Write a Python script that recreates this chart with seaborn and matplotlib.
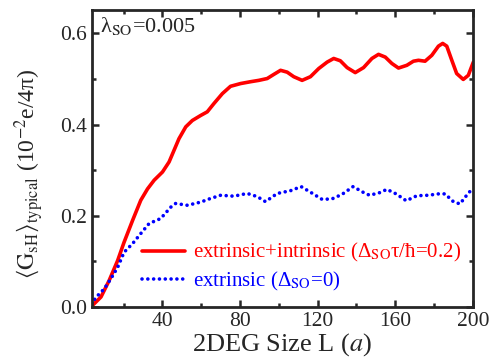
import numpy as np
import pandas as pd
import matplotlib
matplotlib.use("Agg")
import matplotlib.pyplot as plt
import seaborn as sns
from matplotlib.ticker import MultipleLocator

# red: extrinsic + intrinsic
L_red = [3.1, 8.3, 12.5, 16.9, 20.2, 24.6, 28.8, 32.3, 35.7, 40.0, 43.4, 46.0, 48.5,
         52.0, 55.4, 59.7, 63.1, 66.5, 70.9, 75.1, 80.3, 85.4, 89.7, 94.0, 97.4,
         100.9, 104.3, 107.7, 112.0, 116.3, 120.6, 124.9, 128.3, 131.7, 135.2, 139.4,
         143.7, 148.0, 151.4, 154.9, 158.3, 161.7, 166.0, 169.4, 172.0, 175.4, 178.9,
         182.3, 184.5, 186.6, 189.2, 191.7, 195.1, 197.7, 200.3]
G_red = [0.0, 0.022, 0.058, 0.102, 0.142, 0.190, 0.234, 0.259, 0.278, 0.296, 0.318, 0.344, 0.369,
         0.395, 0.409, 0.420, 0.428, 0.446, 0.468, 0.484, 0.490, 0.494, 0.497, 0.501, 0.510,
         0.519, 0.515, 0.505, 0.497, 0.505, 0.523, 0.537, 0.545, 0.540, 0.525, 0.514,
         0.525, 0.545, 0.554, 0.548, 0.534, 0.524, 0.530, 0.539, 0.541, 0.539, 0.552,
         0.572, 0.578, 0.572, 0.541, 0.512, 0.499, 0.508, 0.537]

# blue: extrinsic only
L_blue = [3.1, 6.6, 10.0, 13.4, 16.9, 20.2, 24.6, 28.8, 33.1, 39.1, 44.3, 46.8, 52.9,
          59.7, 64.8, 70.0, 76.8, 83.7, 88.9, 93.1, 99.2, 106.0, 111.5, 116.6, 122.3,
          127.4, 132.6, 138.3, 143.7, 146.8, 152.3, 155.7, 160.5, 165.7, 171.2, 177.1,
          182.3, 185.7, 190.0, 193.4, 197.4, 200.0]
G_blue = [0.007, 0.025, 0.040, 0.062, 0.087, 0.120, 0.139, 0.161, 0.183, 0.194, 0.219, 0.227, 0.223,
          0.230, 0.238, 0.245, 0.243, 0.249, 0.242, 0.231, 0.249, 0.255, 0.264, 0.251, 0.236,
          0.237, 0.247, 0.264, 0.251, 0.245, 0.251, 0.258, 0.248, 0.233, 0.244, 0.245,
          0.248, 0.248, 0.231, 0.226, 0.248, 0.260]

label_red = r"extrinsic+intrinsic (Δ$_{\rm SO}$τ/ħ=0.2)"
label_blue = r"extrinsic (Δ$_{\rm SO}$=0)"

sns.set_style("ticks")
plt.rcParams["font.family"] = ["Liberation Serif", "DejaVu Serif"]
plt.rcParams["mathtext.fontset"] = "stix"

df_red = pd.DataFrame({"L": L_red, "G": G_red})
df_blue = pd.DataFrame({"L": L_blue, "G": G_blue})

fig = plt.figure(figsize=(4.94, 3.62), dpi=100)
ax = fig.add_axes([0.186, 0.152, 0.771, 0.82])

sns.lineplot(data=df_red, x="L", y="G", ax=ax, color="#ff0000", lw=2.6, label=label_red)
sns.lineplot(data=df_blue, x="L", y="G", ax=ax, color="#0000ff", lw=2.6,
             dashes=False, label=label_blue)
blue_line = ax.lines[1]
blue_line.set_linestyle((0, (0.01, 1.6)))
blue_line.set_dash_capstyle("round")

ax.set_xlim(3.6, 200)
ax.set_ylim(0, 0.651)
ax.xaxis.set_major_locator(MultipleLocator(40))
ax.xaxis.set_minor_locator(MultipleLocator(20))
ax.yaxis.set_major_locator(MultipleLocator(0.2))
ax.yaxis.set_minor_locator(MultipleLocator(0.1))
ax.yaxis.set_major_formatter(matplotlib.ticker.FormatStrFormatter("%.1f"))
ax.tick_params(which="both", direction="in", top=True, right=True, width=1.8, labelsize=15.5)
ax.tick_params(which="major", length=5)
ax.tick_params(which="minor", length=3)
for s in ax.spines.values():
    s.set_linewidth(2.0)

ax.set_xlabel(r"2DEG Size L ($\mathit{a}$)", fontsize=19, labelpad=0)
ax.set_ylabel(r"$\langle \mathrm{G}_{\mathrm{sH}} \rangle_{\mathrm{typical}}$ (10$^{-2}$e/4π)",
              fontsize=17)
ax.yaxis.set_label_coords(-0.12, 0.45)

ax.text(0.02, 0.985, r"λ$_{\rm SO}$=0.005", transform=ax.transAxes,
        fontsize=16, va="top", ha="left")

leg = ax.legend(loc="lower right", bbox_to_anchor=(0.99, 0.02), frameon=False,
                fontsize=15, handlelength=2.1, handletextpad=0.35, labelspacing=0.25,
                borderaxespad=0)
for txt, c in zip(leg.get_texts(), ["#ff0000", "#0000ff"]):
    txt.set_color(c)

fig.savefig("out.png", dpi=100)
